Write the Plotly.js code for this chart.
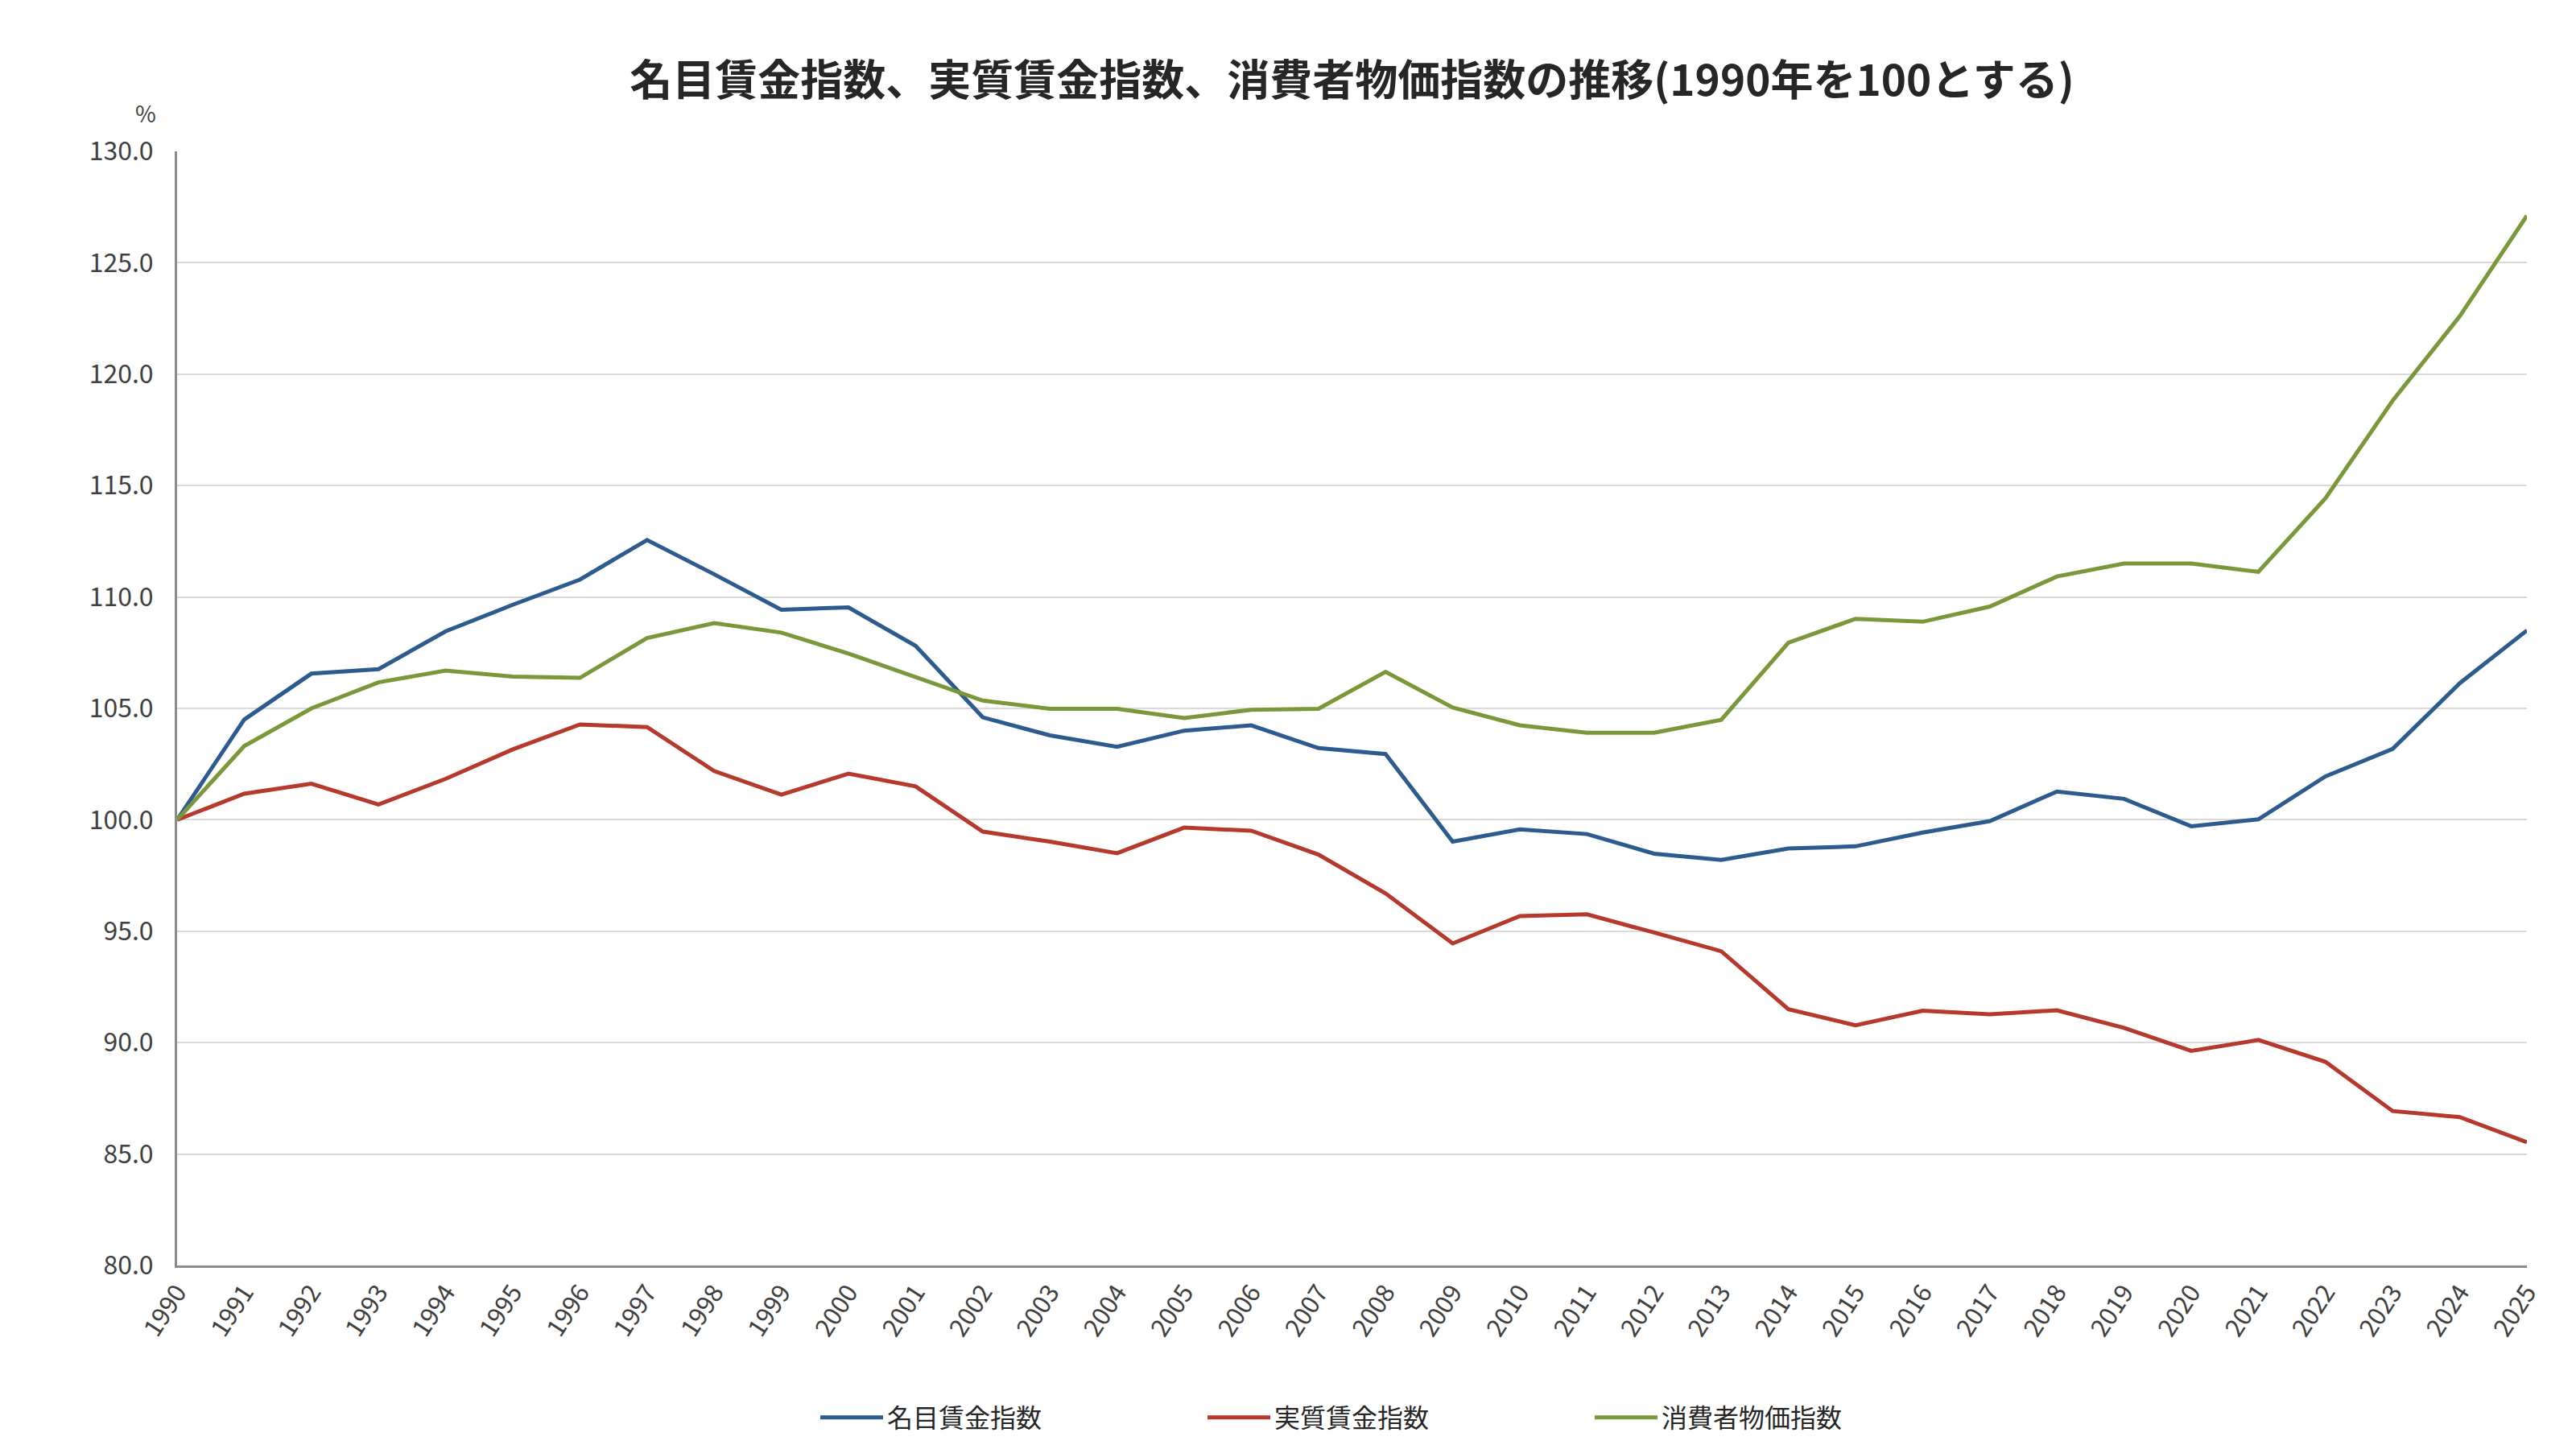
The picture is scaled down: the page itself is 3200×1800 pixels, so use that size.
<!DOCTYPE html>
<html>
<head>
<meta charset="utf-8">
<script src="https://cdn.plot.ly/plotly-3.0.1.min.js"></script>
<style>
  html, body { margin: 0; padding: 0; background: #fff; }
  #chart { width: 3200px; height: 1800px; }
</style>
</head>
<body>
<div id="chart"></div>
<script>
const years = [1990, 1991, 1992, 1993, 1994, 1995, 1996, 1997, 1998, 1999,
               2000, 2001, 2002, 2003, 2004, 2005, 2006, 2007, 2008, 2009,
               2010, 2011, 2012, 2013, 2014, 2015, 2016, 2017, 2018, 2019,
               2020, 2021, 2022, 2023, 2024, 2025];

// 名目賃金指数
const nominalWage = [100.0, 104.5, 106.56, 106.76, 108.46, 109.65, 110.78, 112.56, 111.02, 109.43,
                     109.53, 107.81, 104.6, 103.79, 103.28, 104.0, 104.24, 103.22, 102.95, 99.02,
                     99.57, 99.36, 98.48, 98.2, 98.71, 98.81, 99.43, 99.94, 101.27, 100.94,
                     99.71, 100.02, 101.95, 103.18, 106.13, 108.5];

// 実質賃金指数
const realWage = [100.0, 101.17, 101.62, 100.69, 101.84, 103.16, 104.28, 104.16, 102.19, 101.13,
                  102.07, 101.5, 99.47, 99.02, 98.5, 99.65, 99.51, 98.44, 96.7, 94.45,
                  95.68, 95.76, 94.94, 94.1, 91.5, 90.78, 91.43, 91.27, 91.45, 90.66,
                  89.63, 90.12, 89.14, 86.93, 86.66, 85.53];

// 消費者物価指数
const cpi = [100.0, 103.31, 105.0, 106.17, 106.7, 106.43, 106.37, 108.16, 108.83, 108.4,
             107.46, 106.41, 105.35, 104.98, 104.98, 104.57, 104.94, 104.98, 106.64, 105.04,
             104.24, 103.91, 103.91, 104.49, 107.95, 109.02, 108.89, 109.57, 110.92, 111.5,
             111.5, 111.13, 114.43, 118.81, 122.6, 127.11];

const seriesNames = ["名目賃金指数", "実質賃金指数", "消費者物価指数"];
const seriesColors = ["#2d5b8d", "#b5392c", "#7a973a"];
const chartTitle = "名目賃金指数、実質賃金指数、消費者物価指数の推移(1990年を100とする)";

const FONT = "'Noto Sans CJK JP', 'Noto Sans', sans-serif";

function lineTrace(y, i) {
    return {
        type: "scatter",
        mode: "lines",
        x: years,
        y: y,
        name: seriesNames[i],
        line: { color: seriesColors[i], width: 5 },
        hoverinfo: "x+y+name"
    };
}

const data = [nominalWage, realWage, cpi].map(lineTrace);

const layout = {
    width: 3200,
    height: 1800,
    paper_bgcolor: "#ffffff",
    plot_bgcolor: "#ffffff",
    font: { family: FONT, color: "#404040", size: 32 },
    margin: { l: 220, r: 61, t: 188, b: 213, pad: 0 },
    title: {
        text: "<b>" + chartTitle + "</b>",
        font: { family: FONT, size: 53, color: "#262626" },
        x: 0.5,
        xref: "paper",
        xanchor: "center",
        y: 1 - 100 / 1800,
        yanchor: "middle"
    },
    xaxis: {
        type: "linear",
        range: [years[0], years[years.length - 1]],
        tickmode: "array",
        tickvals: years,
        ticktext: years.map(String),
        tickangle: -57,
        tickfont: { size: 31, color: "#404040" },
        showgrid: false,
        zeroline: false,
        showline: true,
        linecolor: "#8c8c8c",
        linewidth: 3,
        ticks: ""
    },
    yaxis: {
        range: [80, 130],
        dtick: 5,
        tick0: 80,
        tickformat: ".1f",
        tickfont: { size: 32, color: "#404040" },
        showgrid: true,
        gridcolor: "#d9d9d9",
        gridwidth: 2,
        zeroline: false,
        showline: true,
        linecolor: "#8c8c8c",
        linewidth: 3,
        ticks: "",
        ticklabelstandoff: 20
    },
    legend: {
        orientation: "h",
        x: (1014 - 220) / 2919,
        xanchor: "left",
        y: (1587 - 1778) / 1399,
        yanchor: "middle",
        itemwidth: 78,
        entrywidth: 388,
        entrywidthmode: "pixels",
        font: { size: 32, color: "#262626" },
        bgcolor: "rgba(0,0,0,0)"
    },
    annotations: [{
        text: "%",
        xref: "paper",
        yref: "paper",
        x: (181 - 220) / 2919,
        y: (1587 - 139) / 1399,
        xanchor: "center",
        yanchor: "middle",
        showarrow: false,
        font: { size: 28, color: "#404040" }
    }],
    showlegend: true
};

Plotly.newPlot("chart", data, layout, { displayModeBar: false, responsive: false });
</script>
</body>
</html>
